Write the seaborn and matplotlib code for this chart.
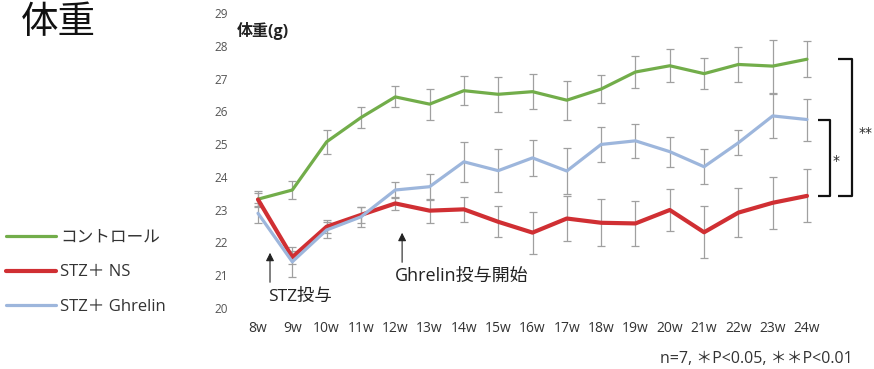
import numpy as np
import pandas as pd
import matplotlib
matplotlib.use("Agg")
import matplotlib.pyplot as plt
from matplotlib.lines import Line2D
import seaborn as sns

# Body weight (g), mean ± SE, weeks 8–24
weeks = ["8w", "9w", "10w", "11w", "12w", "13w", "14w", "15w", "16w",
         "17w", "18w", "19w", "20w", "21w", "22w", "23w", "24w"]
groups = ["コントロール", "STZ＋ NS", "STZ＋ Ghrelin"]

control_mean = [23.32, 23.60, 25.07, 25.81, 26.44, 26.22, 26.63, 26.52, 26.60,
                26.34, 26.68, 27.20, 27.39, 27.15, 27.43, 27.38, 27.59]
control_se = [0.25, 0.27, 0.37, 0.31, 0.32, 0.47, 0.45, 0.53, 0.54,
              0.59, 0.42, 0.49, 0.50, 0.48, 0.52, 0.81, 0.55]

ns_mean = [23.31, 21.55, 22.48, 22.84, 23.19, 22.97, 23.01, 22.63, 22.30,
           22.73, 22.60, 22.58, 22.99, 22.31, 22.91, 23.21, 23.42]
ns_se = [0.20, 0.20, 0.20, 0.25, 0.20, 0.37, 0.38, 0.47, 0.64,
         0.70, 0.72, 0.69, 0.65, 0.79, 0.74, 0.80, 0.81]

ghrelin_mean = [22.89, 21.41, 22.38, 22.78, 23.60, 23.70, 24.46, 24.19, 24.58,
                24.18, 24.99, 25.10, 24.77, 24.31, 25.04, 25.86, 25.75]
ghrelin_se = [0.30, 0.45, 0.25, 0.30, 0.25, 0.40, 0.61, 0.65, 0.55,
              0.69, 0.54, 0.52, 0.46, 0.54, 0.38, 0.67, 0.64]

y_ticks = [20, 21, 22, 23, 24, 25, 26, 27, 28, 29]

colors = {"コントロール": "#72ad4a", "STZ＋ NS": "#d02f33", "STZ＋ Ghrelin": "#9db6dc"}
widths = {"コントロール": 2.3, "STZ＋ NS": 3.0, "STZ＋ Ghrelin": 2.3}

means = {"コントロール": control_mean, "STZ＋ NS": ns_mean, "STZ＋ Ghrelin": ghrelin_mean}
ses = {"コントロール": control_se, "STZ＋ NS": ns_se, "STZ＋ Ghrelin": ghrelin_se}

x_idx = np.arange(len(weeks))
df = pd.concat([
    pd.DataFrame({"週": x_idx, "体重": means[g], "SE": ses[g], "群": g}) for g in groups
], ignore_index=True)

sns.set_theme(style="white")
plt.rcParams["font.family"] = ["Open Sans", "Noto Sans CJK JP", "DejaVu Sans"]

W, H = 874, 369
fig = plt.figure(figsize=(W / 100, H / 100), dpi=100)
fig.patch.set_facecolor("white")

# axes placed so that 8w→258px, 24w→807px, 20→308px, 29→13px
px_per_x = (807 - 258) / 16
x0, x1 = -0.3, 16.3
left_px = 258 + x0 * px_per_x
right_px = 258 + x1 * px_per_x
ax = fig.add_axes([left_px / W, (H - 308) / H, (right_px - left_px) / W, 295 / H])

# error bars under the lines
for g in groups:
    ax.errorbar(x_idx, means[g], yerr=ses[g], fmt="none", ecolor="#a0a0a0",
                elinewidth=0.9, capsize=3, capthick=0.9, zorder=1)

sns.lineplot(data=df, x="週", y="体重", hue="群", size="群",
             palette=colors, sizes=widths, hue_order=groups, size_order=groups,
             legend=False, ax=ax, zorder=3)

ax.set_xlim(x0, x1)
ax.set_ylim(20, 29)
ax.set_xticks(x_idx)
ax.set_xticklabels(weeks, fontsize=10, color="#333333")
ax.set_yticks(y_ticks)
ax.set_yticklabels([str(v) for v in y_ticks], fontsize=8.5, color="#555555")
ax.tick_params(axis="y", length=0, pad=14)
ax.tick_params(axis="x", length=0, pad=9)
ax.set_xlabel("")
ax.set_ylabel("")
for s in ax.spines.values():
    s.set_visible(False)
ax.grid(False)

# significance brackets at 24w
last = len(weeks) - 1
bk = dict(color="#111111", lw=1.6, clip_on=False, solid_capstyle="butt")
ax.plot([16.32, 16.66, 16.66, 16.32],
        [ghrelin_mean[last], ghrelin_mean[last], ns_mean[last], ns_mean[last]], **bk)
ax.plot([16.9, 17.31, 17.31, 16.9],
        [control_mean[last], control_mean[last], ns_mean[last], ns_mean[last]], **bk)
ax.text(16.85, 24.5, "*", fontsize=10, ha="center", va="center", family="DejaVu Sans")
ax.text(17.7, 25.35, "**", fontsize=10, ha="center", va="center", family="DejaVu Sans")

# treatment arrows
arrow = dict(arrowstyle="-|>", color="#222222", lw=0.8, mutation_scale=12)
ax.annotate("", xy=(0.35, 21.77), xytext=(0.35, 20.7), arrowprops=arrow)
ax.text(1.23, 20.34, "STZ投与", fontsize=12.5, ha="center", va="center", color="#222222")
ax.annotate("", xy=(4.2, 22.38), xytext=(4.2, 21.31), arrowprops=arrow)
ax.text(5.93, 20.98, "Ghrelin投与開始", fontsize=13, ha="center", va="center", color="#222222")

# titles and notes
fig.text(21 / W, 1 - 23 / H, "体重", fontsize=27, ha="left", va="center", color="#111111")
fig.text(237 / W, 1 - 31 / H, "体重(g)", fontsize=11.5, fontweight="bold",
         ha="left", va="center", color="#222222")
fig.text(853 / W, 1 - 359 / H, "n=7, ＊P<0.05, ＊＊P<0.01", fontsize=11.5,
         ha="right", va="center", color="#333333")

handles = [Line2D([], [], color=colors[g], lw=widths[g]) for g in groups]
fig.legend(handles, groups, loc="upper left", bbox_to_anchor=(6 / W, 1 - 230 / H),
           frameon=False, fontsize=12, handlelength=3.0, handletextpad=0.25,
           labelspacing=1.1, borderpad=0, borderaxespad=0, labelcolor="#333333")

fig.savefig("out.png", dpi=100, facecolor="white")
